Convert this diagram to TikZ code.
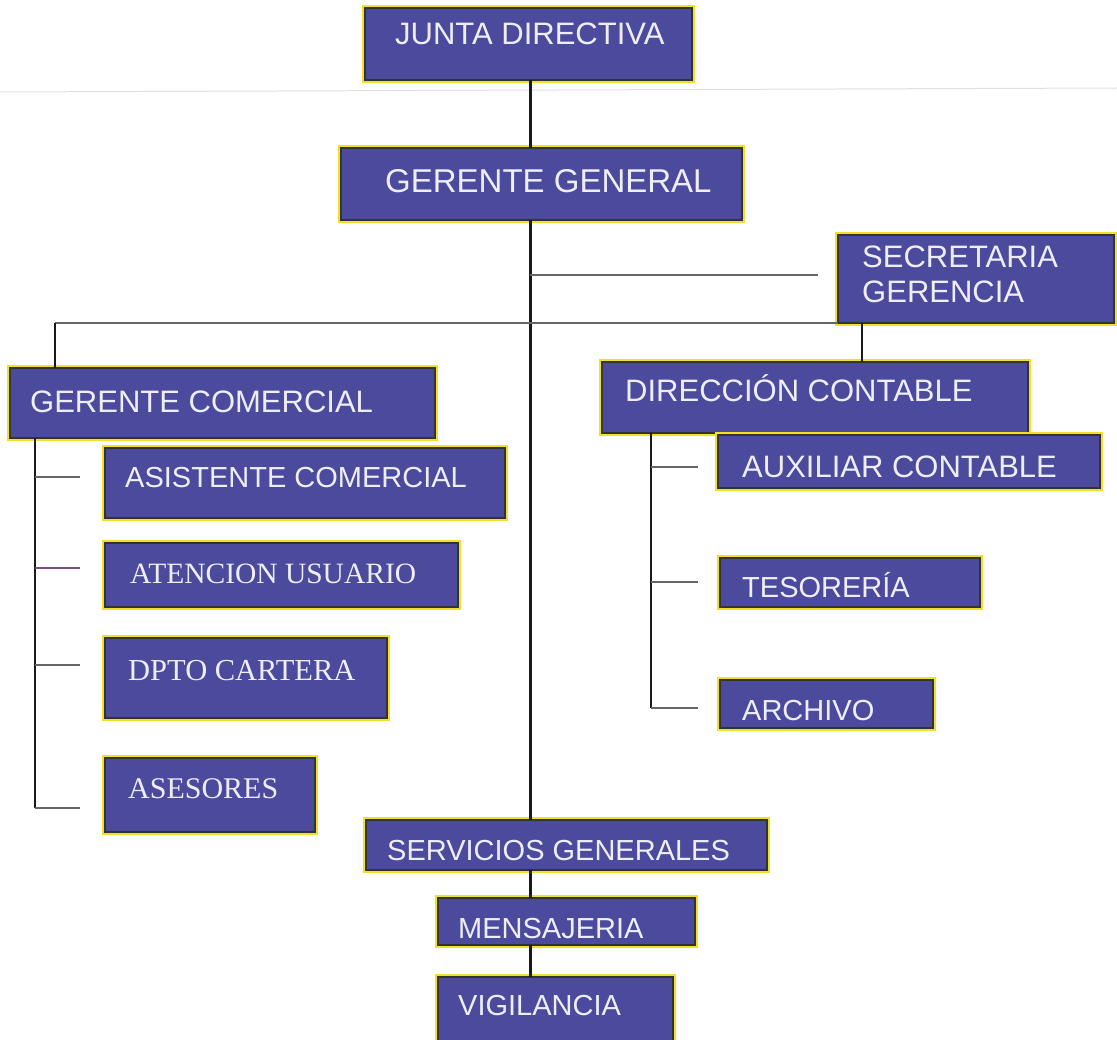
\documentclass[tikz,border=0pt]{standalone}
\usepackage{fontspec}
\setmainfont{Liberation Sans}
\newfontfamily\serifb{Liberation Serif}
\usetikzlibrary{calc}
\definecolor{boxblue}{RGB}{76,74,156}
\definecolor{glow}{RGB}{240,225,40}
\definecolor{txtw}{RGB}{238,238,250}
\tikzset{
  obox/.style={fill=boxblue, draw=black!80, line width=1.4pt, inner sep=0pt, outer sep=0pt,
    preaction={draw=glow, line width=6.5pt}},
  otxt/.style={anchor=base west, inner sep=0pt, text=txtw},
  trunk/.style={line width=3pt, black!90},
  brk/.style={line width=2.6pt, black!90},
  hline/.style={line width=2pt, black!60},
  tick/.style={line width=1.8pt, black!60},
}
\newcommand\mkbox[5]{\node[obox, anchor=north west, minimum width={(#4-#2)*1pt}, minimum height={(#5-#3)*1pt}] (#1) at (#2,#3) {};}
\newcommand\fs[1]{\fontsize{#1}{#1}\selectfont}
\begin{document}
\begin{tikzpicture}[x=1pt,y=-1pt]
\useasboundingbox (0,0) rectangle (1117,1040);
\clip (0,0) rectangle (1117,1040);
% faint scan line
\draw[black!12, line width=1pt] (0,92) -- (1117,88);
% boxes
\mkbox{jd}{365}{8}{692}{80}
\mkbox{gg}{341}{148}{742}{220}
\mkbox{sec}{838}{235}{1114}{323}
\mkbox{gc}{10}{368}{435}{438}
\mkbox{dc}{602}{362}{1028}{433}
\mkbox{ac}{105}{448}{505}{518}
\mkbox{au}{105}{543}{458}{607}
\mkbox{dp}{105}{638}{387}{718}
\mkbox{as}{105}{758}{315}{832}
\mkbox{ax}{718}{435}{1100}{488}
\mkbox{te}{720}{558}{980}{607}
\mkbox{ar}{720}{680}{933}{728}
\mkbox{sg}{366}{820}{767}{870}
\mkbox{ms}{438}{898}{695}{945}
\mkbox{vg}{438}{977}{673}{1050}
% texts
\node[otxt] (tjd) at (395,45) {\fs{31}JUNTA DIRECTIVA};
\node[otxt] (tgg) at (385,193) {\fs{33}GERENTE GENERAL};
\node[otxt] (tsec1) at (862,268) {\fs{31}SECRETARIA};
\node[otxt] (tsec2) at (862,303) {\fs{31}GERENCIA};
\node[otxt] (tgc) at (30,413) {\fs{31}GERENTE COMERCIAL};
\node[otxt] (tdc) at (625,402) {\fs{31}DIRECCIÓN CONTABLE};
\node[otxt] (tac) at (125,488) {\fs{29}ASISTENTE COMERCIAL};
\node[otxt] (tau) at (130,583) {\serifb\fs{29.5}ATENCION USUARIO};
\node[otxt] (tdp) at (128,680) {\serifb\fs{30.5}DPTO CARTERA};
\node[otxt] (tas) at (128,798) {\serifb\fs{30}ASESORES};
\node[otxt] (tax) at (742,478) {\fs{31}AUXILIAR CONTABLE};
\node[otxt] (tte) at (742,597) {\fs{29}TESORERÍA};
\node[otxt] (tar) at (742,720) {\fs{29}ARCHIVO};
\node[otxt] (tsg) at (387,860) {\fs{29}SERVICIOS GENERALES};
\node[otxt] (tms) at (458,938) {\fs{29}MENSAJERIA};
\node[otxt] (tvg) at (458,1015) {\fs{29}VIGILANCIA};
% connector reference points
\coordinate (t) at (530,0);
\coordinate (secEnd) at (818,275);
\coordinate (lx) at (55,323);
\coordinate (gx) at (35,0);
\coordinate (dx) at (651,0);
\coordinate (sx) at (862,0);
% main trunk
\draw[trunk] (t |- jd.south) -- (t |- gg.north);
\draw[trunk] (t |- gg.south) -- (t |- sg.north);
\draw[trunk] (t |- sg.south) -- (t |- ms.north);
\draw[trunk] (t |- ms.south) -- (t |- vg.north);
% secretaria link
\draw[hline] (t |- secEnd) -- (secEnd);
% long horizontal to gerente comercial
\draw[hline] (sec.south west) -- (lx);
\draw[brk] (lx) -- (lx |- gc.north);
\draw[brk] (sx |- sec.south) -- (sx |- dc.north);
% gerente comercial bracket
\coordinate (g1) at (80,477);
\coordinate (g2) at (80,568);
\coordinate (g3) at (80,665);
\coordinate (g4) at (80,808);
\draw[brk] (gx |- gc.south) -- (gx |- g4);
\draw[tick] (gx |- g1) -- (g1);
\draw[tick, draw=violet!55!black!70] (gx |- g2) -- (g2);
\draw[tick] (gx |- g3) -- (g3);
\draw[tick] (gx |- g4) -- (g4);
% direccion contable bracket
\coordinate (d1) at (698,467);
\coordinate (d2) at (698,582);
\coordinate (d3) at (698,708);
\draw[brk] (dx |- dc.south) -- (dx |- d3);
\draw[tick] (dx |- d1) -- (d1);
\draw[tick] (dx |- d2) -- (d2);
\draw[tick] (dx |- d3) -- (d3);
\end{tikzpicture}
\end{document}
